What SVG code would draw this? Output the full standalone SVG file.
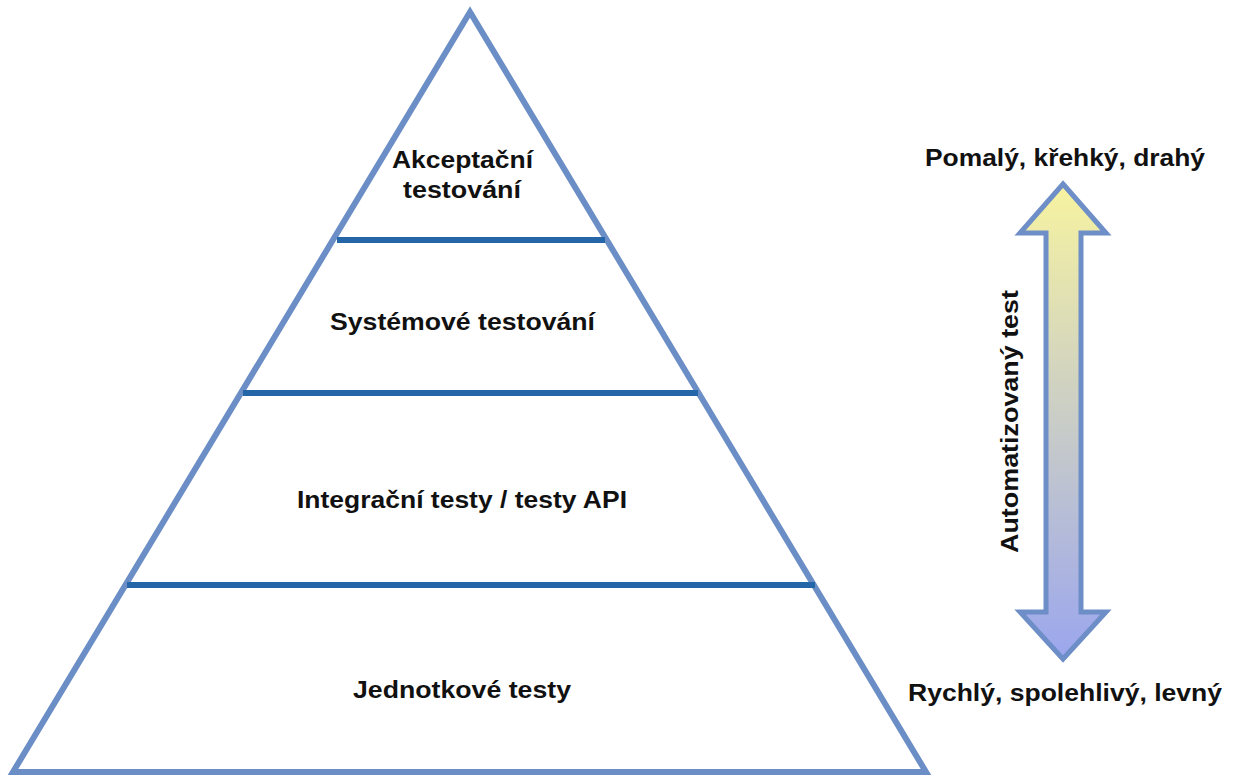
<svg xmlns="http://www.w3.org/2000/svg" width="1239" height="778" viewBox="0 0 1239 778">
<defs>
<linearGradient id="g" x1="0" y1="0" x2="0" y2="1">
<stop offset="0" stop-color="#F7F3A0"/>
<stop offset="1" stop-color="#9BA6EE"/>
</linearGradient>
<style>
.t{font-family:"Liberation Sans",Arial,sans-serif;font-weight:bold;font-size:23px;fill:#111;text-anchor:middle}
.tri{fill:none;stroke:#6C8EC6;stroke-width:6;stroke-linejoin:miter}
.lvl{stroke:#2566A8;stroke-width:6}
</style>
</defs>
<rect width="1239" height="778" fill="#fff"/>
<g id="pyramid">
<polygon class="tri" points="470,12 926,772 13,772"/>
</g>
<g id="connectors">
<line class="lvl" x1="337" y1="240" x2="605" y2="240"/>
<line class="lvl" x1="243" y1="393" x2="698" y2="393"/>
<line class="lvl" x1="127" y1="585" x2="815" y2="585"/>
</g>
<g id="acceptance"><text class="t" x="462.5" y="168" textLength="141" lengthAdjust="spacingAndGlyphs">Akceptační</text><text class="t" x="462" y="198" textLength="118" lengthAdjust="spacingAndGlyphs">testování</text></g>
<g id="system"><text class="t" x="462.5" y="330" textLength="265" lengthAdjust="spacingAndGlyphs">Systémové testování</text></g>
<g id="integration"><text class="t" x="462" y="508" textLength="330" lengthAdjust="spacingAndGlyphs">Integrační testy / testy API</text></g>
<g id="unit"><text class="t" x="462" y="698" textLength="218" lengthAdjust="spacingAndGlyphs">Jednotkové testy</text></g>
<g id="arrow">
<polygon points="1063,184 1106,233 1081,233 1081,612 1106,612 1063,659 1020,612 1046,612 1046,233 1020,233" fill="url(#g)" stroke="#6E8EC8" stroke-width="5" stroke-linejoin="miter"/>
<text class="t" transform="translate(1018,421.5) rotate(-90)" textLength="263" lengthAdjust="spacingAndGlyphs">Automatizovaný test</text>
</g>
<g id="slow"><text class="t" x="1065" y="166" textLength="280" lengthAdjust="spacingAndGlyphs">Pomalý, křehký, drahý</text></g>
<g id="fast"><text class="t" x="1065" y="701" textLength="314" lengthAdjust="spacingAndGlyphs">Rychlý, spolehlivý, levný</text></g>
</svg>
